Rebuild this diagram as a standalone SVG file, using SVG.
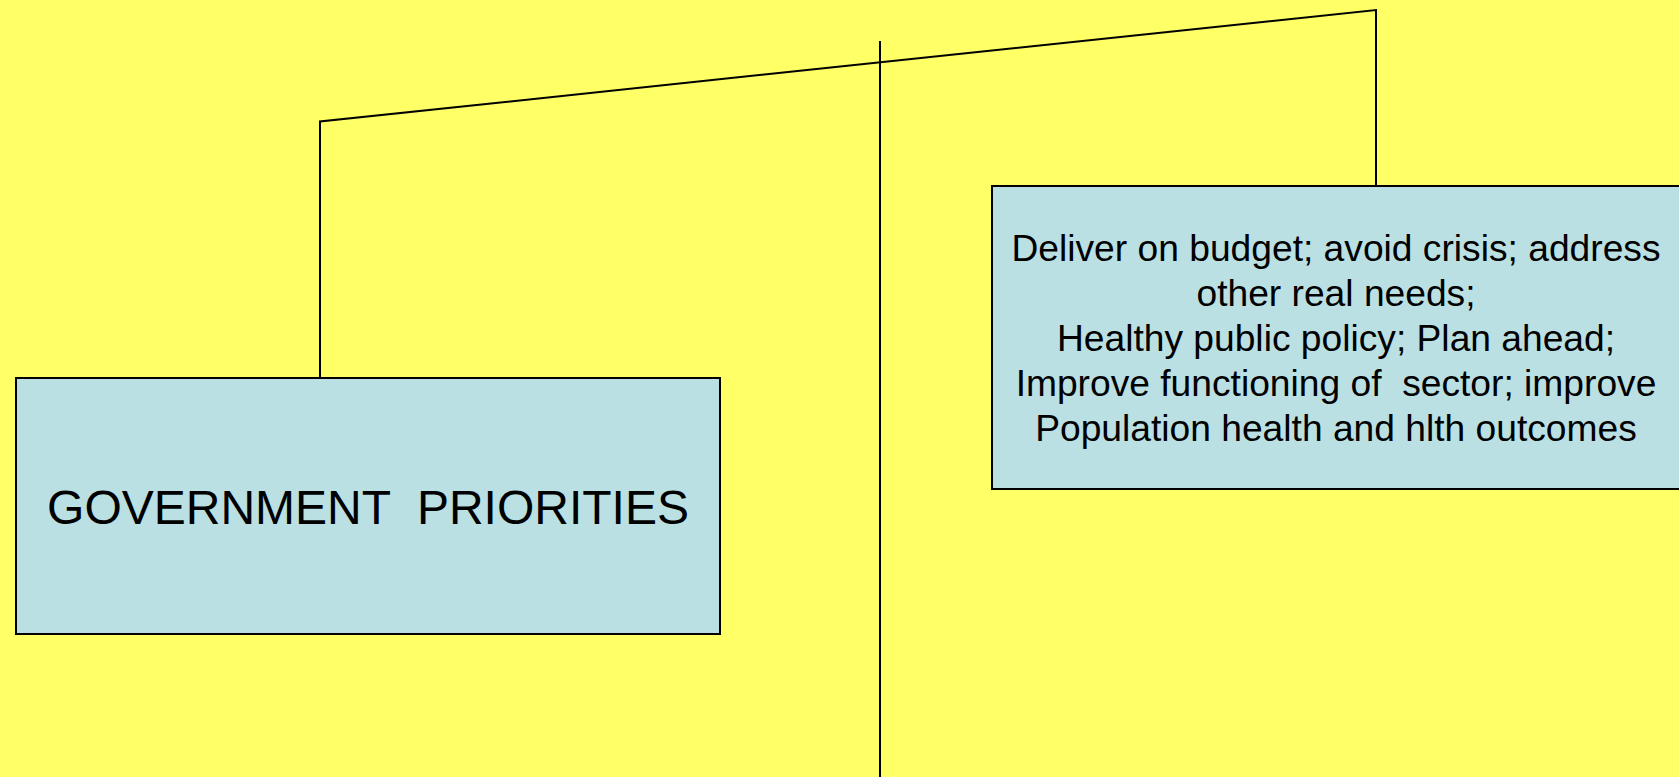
<svg xmlns="http://www.w3.org/2000/svg" width="1679" height="777" viewBox="0 0 1679 777">
<style>
.box{fill:#BBE0E3;stroke:#000;stroke-width:2}
.ln{fill:none;stroke:#000;stroke-width:2}
.t{font-family:"Liberation Sans",Arial,sans-serif;fill:#000;text-anchor:middle}
</style>
<rect x="0" y="0" width="1679" height="777" fill="#FFFF66"/>
<g id="connectors">
<polyline class="ln" points="320,378 320,121.5 1376,10 1376,186"/>
<line class="ln" x1="880" y1="41" x2="880" y2="777"/>
</g>
<g id="node-gov">
<rect class="box" x="16" y="378" width="704" height="256"/>
<text class="t" x="368" y="524" font-size="48" xml:space="preserve">GOVERNMENT  PRIORITIES</text>
</g>
<g id="node-goals">
<rect class="box" x="992" y="186" width="700" height="303"/>
<text class="t" font-size="37.2" xml:space="preserve"><tspan x="1336" y="261">Deliver on budget; avoid crisis; address</tspan><tspan x="1336" y="306">other real needs;</tspan><tspan x="1336" y="351">Healthy public policy; Plan ahead;</tspan><tspan x="1336" y="396">Improve functioning of  sector; improve</tspan><tspan x="1336" y="441">Population health and hlth outcomes</tspan></text>
</g>
</svg>
